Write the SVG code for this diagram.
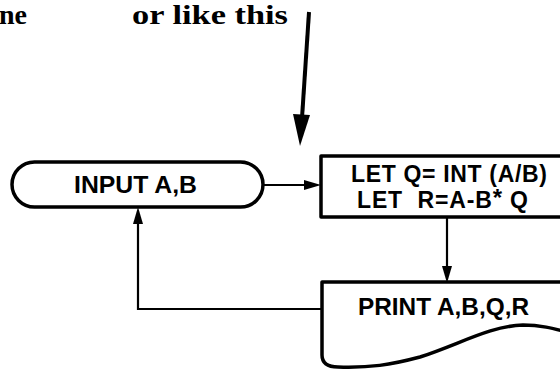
<svg xmlns="http://www.w3.org/2000/svg" width="560" height="371" viewBox="0 0 560 371">
<style>
.shape{fill:#fff;stroke:#000;stroke-width:3.5;stroke-linejoin:round}
.conn{fill:none;stroke:#000;stroke-width:2.2}
.head{fill:#000;stroke:none}
.lbl{font-family:"Liberation Sans",Arial,sans-serif;font-weight:bold;font-size:23px;fill:#000}
.cap{font-family:"Liberation Serif","Times New Roman",serif;font-weight:bold;font-size:28px;fill:#000}
</style>
<rect width="560" height="371" fill="#fff"/>
<text class="cap" x="-1" y="24">ne</text>
<text class="cap" x="132" y="24" textLength="156" lengthAdjust="spacingAndGlyphs">or like this</text>
<g id="connectors">
<line x1="309" y1="12" x2="302" y2="118" stroke="#000" stroke-width="4"/>
<polygon class="head" points="293,114 310,115 300,146"/>
<line class="conn" x1="263" y1="185" x2="308" y2="185"/>
<polygon class="head" points="304,180 321,185 304,190"/>
<line class="conn" x1="447" y1="218" x2="447" y2="268"/>
<polygon class="head" points="442,266 452,266 447,283"/>
<polyline class="conn" points="322,309 138,309 138,222"/>
<polygon class="head" points="133,224 143,224 138,207"/>
</g>
<g id="input">
<rect class="shape" x="12" y="162" width="251" height="45" rx="22.5" ry="22.5"/>
<text class="lbl" x="74" y="193" textLength="123" lengthAdjust="spacingAndGlyphs">INPUT A,B</text>
</g>
<g id="let">
<rect class="shape" x="321" y="156" width="250" height="61"/>
<text class="lbl" x="351" y="182" textLength="196" lengthAdjust="spacing">LET Q= INT (A/B)</text>
<text class="lbl" x="357" y="208" xml:space="preserve" textLength="171" lengthAdjust="spacing">LET  R=A-B<tspan font-size="24" dy="-2">*</tspan><tspan dy="2"> Q</tspan></text>
</g>
<g id="print">
<path class="shape" d="M570,282 H322 V355 Q322,367 338,367 C370,368 390,365 420,357 C460,344 490,326 523,325 C540,325 552,328 570,333 Z"/>
<text class="lbl" x="358" y="315" textLength="171" lengthAdjust="spacingAndGlyphs">PRINT A,B,Q,R</text>
</g>
</svg>
